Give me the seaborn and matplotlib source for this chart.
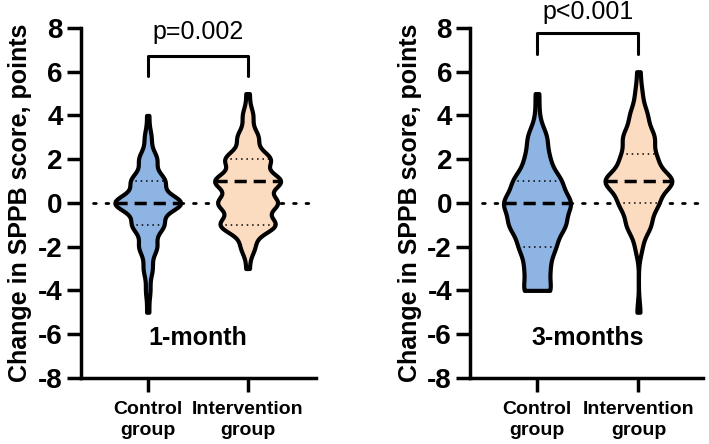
import numpy as np
import pandas as pd
import matplotlib
matplotlib.use('Agg')
import matplotlib.pyplot as plt
import seaborn as sns

sns.set_style('white')
plt.rcParams['font.family'] = ['Liberation Sans', 'DejaVu Sans']
plt.rcParams['text.color'] = 'black'
plt.rcParams['axes.labelcolor'] = 'black'
plt.rcParams['xtick.color'] = 'black'
plt.rcParams['ytick.color'] = 'black'

# Datos: cambio en SPPB (valores enteros) y cuantos pacientes hay en cada valor
groups = ['Control\ngroup', 'Intervention\ngroup']
colors = ['#8EB4E3', '#FCDCC0']

# 1 mes
m1_control_vals = [-5, -4, -3, -2, -1, 0, 1, 2, 3, 4]
m1_control_cnt = [1, 2, 4, 8, 14, 30, 15, 8, 3, 1]
m1_interv_vals = [-3, -2, -1, 0, 1, 2, 3, 4, 5]
m1_interv_cnt = [1, 4, 16, 17, 19, 13, 6, 3, 1]

# 3 meses
m3_control_vals = [-4, -3, -2, -1, 0, 1, 2, 3, 4, 5]
m3_control_cnt = [7, 6, 9, 14, 17, 12, 6, 5, 1, 1]
m3_interv_vals = [-5, -2, -1, 0, 1, 2, 3, 4, 5, 6]
m3_interv_cnt = [1, 2, 7, 11, 20, 10, 9, 5, 2, 1]

panels = ['1-month', '3-months']
p_values = ['p=0.002', 'p<0.001']
bracket_top = [6.7, 7.75]
bracket_low = [5.8, 6.8]
p_text_y = [7.8, 8.75]


def make_df(c_vals, c_cnt, i_vals, i_cnt):
    ctrl = np.repeat(c_vals, c_cnt)
    intv = np.repeat(i_vals, i_cnt)
    return pd.DataFrame({
        'Group': [groups[0]] * len(ctrl) + [groups[1]] * len(intv),
        'Change': np.concatenate([ctrl, intv]).astype(float),
    })


dfs = [
    make_df(m1_control_vals, m1_control_cnt, m1_interv_vals, m1_interv_cnt),
    make_df(m3_control_vals, m3_control_cnt, m3_interv_vals, m3_interv_cnt),
]

fig = plt.figure(figsize=(7.09, 4.44), dpi=100)
axes = [
    fig.add_axes([0.114, 0.149, 0.331, 0.788]),
    fig.add_axes([0.663, 0.149, 0.329, 0.788]),
]
xlims = [(-0.67, 1.68), (-0.66, 1.64)]

for k, ax in enumerate(axes):
    # linea de cero punteada
    ax.axhline(0, xmin=0.05, xmax=1, color='black', linestyle=(0, (1, 3.5)),
               linewidth=2, dash_capstyle='round', zorder=0)

    n_before = len(ax.lines)
    sns.violinplot(data=dfs[k], x='Group', y='Change', hue='Group',
                   palette=colors, order=groups, hue_order=groups,
                   inner='quart', cut=0, bw_adjust=0.58, density_norm='width',
                   width=0.66, linewidth=3, linecolor='black', saturation=1,
                   legend=False, ax=ax)

    # mediana con guiones gruesos, cuartiles con puntos finos
    new_lines = ax.lines[n_before:]
    for i, ln in enumerate(new_lines):
        if i % 3 == 1:
            ln.set_linestyle((0, (3.5, 2)))
            ln.set_linewidth(2.5)
        else:
            ln.set_linestyle((0, (1, 2.5)))
            ln.set_linewidth(1.1)
        ln.set_color('black')

    for coll in ax.collections:
        coll.set_edgecolor('black')
        coll.set_linewidth(3)

    # corchete de significancia
    ax.plot([0, 0, 1, 1], [bracket_low[k], bracket_top[k], bracket_top[k], bracket_low[k]],
            color='black', linewidth=2.2, clip_on=False)
    ax.text(0.5, p_text_y[k], p_values[k], ha='center', va='center', fontsize=18)
    ax.text(0.5, -6.2, panels[k], ha='center', va='center', fontsize=18,
            fontweight='bold')

    ax.set_ylim(-8, 8)
    ax.set_xlim(*xlims[k])
    ax.set_yticks(np.arange(-8, 9, 2))
    ax.set_yticklabels([str(v) for v in range(-8, 9, 2)], fontsize=20,
                       fontweight='bold')
    ax.set_xticks([0, 1])
    ax.set_xticklabels(groups, fontsize=14, fontweight='bold', linespacing=1.25)
    ax.set_xlabel('')
    ax.set_ylabel('Change in SPPB score, points', fontsize=18,
                  fontweight='bold', labelpad=4)
    ax.tick_params(axis='both', direction='out', length=10, width=2.5,
                   color='black', left=True, bottom=True, pad=3)
    ax.tick_params(axis='x', pad=7)
    for side in ['top', 'right']:
        ax.spines[side].set_visible(False)
    for side in ['left', 'bottom']:
        ax.spines[side].set_linewidth(2.5)
        ax.spines[side].set_color('black')

fig.savefig('out.png', dpi=100)
